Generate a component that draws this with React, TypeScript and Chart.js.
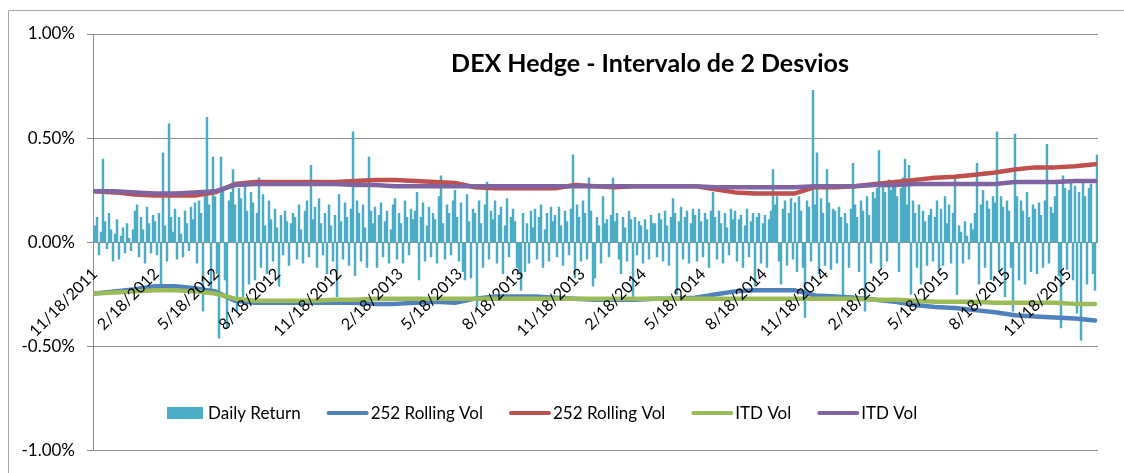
import React, { useEffect, useRef } from "react";
import { Chart, registerables } from "chart.js";

Chart.register(...registerables);

const TITLE = "DEX Hedge - Intervalo de 2 Desvios";
const START_DATE = "11/18/2011";
const TICK_LABELS = [
  "11/18/2011", "2/18/2012", "5/18/2012", "8/18/2012", "11/18/2012",
  "2/18/2013", "5/18/2013", "8/18/2013", "11/18/2013", "2/18/2014",
  "5/18/2014", "8/18/2014", "11/18/2014", "2/18/2015", "5/18/2015",
  "8/18/2015", "11/18/2015",
];
const SERIES_NAMES = ["Daily Return", "252 Rolling Vol", "252 Rolling Vol", "ITD Vol", "ITD Vol"];

// daily return, in basis points (0.01%), one bar every 3 calendar days from 11/18/2011
const BAR_STEP_DAYS = 3;
const DAILY_RETURN_BP = [
  8, 12, -6, 5, 40, 10, -3, 14, 6, -9,
  4, 11, -8, 3, 7, -5, 9, 2, -4, 6,
  15, 18, -7, 12, 6, -10, 17, 9, -5, 13,
  10, -6, 14, -20, 43, 8, -9, 57, 12, 5,
  16, -8, 12, 4, -7, 15, 9, -4, 17, 11,
  19, -10, 20, 14, -33, 22, 60, 18, -24, 41,
  22, -15, -46, 41, 25, -18, -41, 20, 24, 35,
  18, -33, 26, 21, -26, 28, 15, -20, 24, 19,
  -18, 14, 31, -12, 23, 8, -15, 20, 11, -9,
  16, 7, -21, 13, -6, 15, 10, -11, 9, 14,
  12, -8, 18, 6, -10, 15, 20, -7, 37, 11,
  17, -12, 21, 9, -6, 14, -15, 18, 8, -9,
  13, -26, 23, 10, -8, 19, 12, -11, 16, 53,
  -16, 20, 14, -9, 18, 7, -12, 41, 15, 9,
  17, -12, 13, 19, -7, 10, 15, -10, 6, 18,
  21, -8, 14, 9, -10, 20, 12, -6, 16, 11,
  15, 24, -18, 12, 19, -9, 8, 17, -7, 14,
  11, -10, 22, 32, 9, -8, 18, 14, -6, 20,
  25, 12, -9, 19, -14, -18, 23, 10, -17, 16,
  14, -31, 20, 9, -12, 18, 29, -8, 15, 11,
  20, -10, 13, 17, -15, 8, 21, -7, 12, 16,
  10, -12, -15, -23, 14, -14, 9, -10, 15, 7,
  16, -8, 12, 18, -12, 6, 14, -9, 17, 10,
  13, -7, 17, 8, -11, 15, 10, -6, 16, 42,
  -17, 18, 12, -9, 20, 14, -8, 31, 15, -21,
  -17, 12, 8, -10, 22, 9, 11, -7, 13, 31,
  10, 14, -8, -15, 12, 7, -9, 15, 11, -27,
  12, -6, 10, 8, -10, 11, 6, -8, 13, 9,
  9, -7, 14, 11, -9, 15, 8, -11, 12, 21,
  14, -25, 10, 17, -8, 12, 15, -10, 9, 16,
  13, -9, 16, 10, -7, 14, 11, -12, 15, 24,
  12, -8, 15, 9, -10, 14, 7, -6, 16, 11,
  15, -9, 11, 13, -12, 8, 16, -7, 10, 14,
  -21, 12, 14, -10, 9, 13, -12, 11, 15, 35,
  18, 22, -9, -20, 16, 20, -11, 14, 21, -8,
  19, -14, 22, 15, -12, -36, 20, 17, -9, 73,
  18, 43, -15, 21, 14, -11, 35, 19, -13, 16,
  15, -10, 17, 12, -26, 14, 9, -12, 16, 38,
  18, 12, -14, 20, 15, -33, 22, 13, -10, 24,
  21, 26, 44, -12, 28, 24, -9, 30, 25, 27,
  29, 22, -14, 26, 31, 40, 18, 37, -25, 20,
  14, -12, 18, -20, 15, 10, -11, 13, 16, -9,
  12, 20, -13, 16, -11, 22, 9, 18, -10, 14,
  31, -25, 8, 5, -10, 10, 3, -8, 9, 6,
  14, 38, -20, 18, 25, -12, 20, 16, -18, 22,
  19, 53, -14, 22, 17, -26, 20, 15, -12, -33,
  52, 22, -18, 20, 15, -20, 24, 12, -14, 18,
  16, -15, 19, 13, -12, 20, 47, -10, 17, 14,
  22, 28, -16, -41, 32, 26, -13, 25, 30, -18,
  27, -34, 24, -47, 29, 22, -20, 26, 28, -15,
  -23, 42,
];

// volatility bands, in basis points, one point every 30 calendar days
const LINE_STEP_DAYS = 30;
const ROLLING_252_LOW = [
  -24.5, -23.5, -22.5, -21, -21, -22, -23.5, -28, -29, -29,
  -29, -29, -29, -29, -29.5, -29.5, -29, -28.5, -29, -27,
  -26, -26, -26, -26.5, -27, -27.5, -27.5, -27.5, -27, -27,
  -26.5, -25, -23.5, -23, -23, -23, -25.5, -26, -26.5, -27.5,
  -28.5, -30, -31, -31.5, -32.5, -33.5, -35, -35.5, -36, -36.5,
  -37.5,
];
const ROLLING_252_HIGH = [
  24.5, 24, 23, 22.5, 22.5, 22.5, 24, 28, 29, 29,
  29, 29, 29, 29.5, 30, 30, 29.5, 29, 28.5, 26.5,
  26, 26, 26, 26, 27.5, 27, 26.5, 27, 27, 27,
  27, 25.5, 24, 23.5, 23.5, 23.5, 26.5, 26.5, 27, 28,
  29, 30, 31, 31.5, 32.5, 33.5, 35, 36, 36, 36.5,
  37.5,
];
const ITD_LOW = [
  -24.5, -24, -23.5, -23, -23, -23.5, -24.5, -27, -28, -28,
  -28, -28, -27.5, -27.5, -27, -27, -27, -27, -27, -27,
  -27, -27, -27, -27, -27, -27, -27, -27, -27, -27,
  -27, -27, -27, -27, -27, -27, -27, -27, -27, -27.5,
  -27.5, -28, -28.5, -28.5, -28.5, -29, -29, -29, -29, -29.5,
  -29.5,
];
const ITD_HIGH = [
  24.5, 24.5, 24, 23.5, 23.5, 24, 24.5, 27.5, 28, 28,
  28, 28, 28, 27.5, 27.5, 27, 27, 27, 27, 27,
  27, 27, 27, 27, 27, 27, 27, 27, 27, 27,
  27, 26.5, 26.5, 26.5, 26.5, 26.5, 27, 27, 27, 27.5,
  27.5, 28, 28, 28, 28, 28, 29, 29, 29, 29.5,
  29.5,
];

const FONT = "Lato";
const GRID = "#8E8E8E";

function toDay(s: string): number {
  const [m, d, y] = s.split("/").map(Number);
  const [m0, d0, y0] = START_DATE.split("/").map(Number);
  return Math.round((Date.UTC(y, m - 1, d) - Date.UTC(y0, m0 - 1, d0)) / 86400000);
}
const TICK_DAYS = TICK_LABELS.map(toDay);

const toPoints = (arr: number[], step: number) => arr.map((v, i) => ({ x: i * step, y: v }));

const frame = {
  id: "frame",
  beforeDraw(chart: any) {
    const ctx = chart.ctx;
    ctx.save();
    ctx.fillStyle = "#fff";
    ctx.fillRect(0, 0, chart.width, chart.height);
    ctx.strokeStyle = "#A6A6A6";
    ctx.lineWidth = 1;
    ctx.beginPath();
    ctx.moveTo(8.5, chart.height);
    ctx.lineTo(8.5, 10.5);
    ctx.lineTo(chart.width, 10.5);
    ctx.stroke();
    ctx.restore();
  },
};

const titleText = {
  id: "titleText",
  afterDraw(chart: any) {
    const ctx = chart.ctx;
    ctx.save();
    ctx.font = `bold 25px ${FONT}`;
    ctx.fillStyle = "#000";
    ctx.textAlign = "center";
    ctx.textBaseline = "middle";
    ctx.fillText(TITLE, 650, 64);
    ctx.restore();
  },
};

const excelLegend = {
  id: "excelLegend",
  afterDraw(chart: any) {
    const ctx = chart.ctx;
    ctx.save();
    ctx.font = `17px ${FONT}`;
    ctx.textBaseline = "middle";
    ctx.textAlign = "left";
    let x = 167;
    const y = 413;
    chart.data.datasets.forEach((ds: any, i: number) => {
      if (i === 0) {
        ctx.fillStyle = ds.backgroundColor;
        ctx.fillRect(x, y - 6, 36, 12);
        x += 41;
      } else {
        ctx.strokeStyle = ds.borderColor;
        ctx.lineWidth = 4;
        ctx.lineCap = "round";
        ctx.beginPath();
        ctx.moveTo(x + 2, y);
        ctx.lineTo(x + 40, y);
        ctx.stroke();
        x += 44;
      }
      ctx.fillStyle = "#000";
      ctx.fillText(ds.label, x, y + 1);
      x += ctx.measureText(ds.label).width + 26;
    });
    ctx.restore();
  },
};

function lineSet(label: string, data: number[], color: string, order: number) {
  return {
    type: "line" as const,
    label,
    data: toPoints(data, LINE_STEP_DAYS),
    borderColor: color,
    backgroundColor: color,
    borderWidth: 4.5,
    pointRadius: 0,
    borderCapStyle: "round" as const,
    borderJoinStyle: "round" as const,
    tension: 0,
    order,
  };
}

export default function App() {
  const ref = useRef<HTMLCanvasElement>(null);
  useEffect(() => {
    const chart = new Chart(ref.current as HTMLCanvasElement, {
      type: "bar",
      data: {
        datasets: [
          {
            type: "bar",
            label: SERIES_NAMES[0],
            data: toPoints(DAILY_RETURN_BP, BAR_STEP_DAYS),
            backgroundColor: "#4BACC6",
            barThickness: 1.8,
            order: 10,
          } as any,
          lineSet(SERIES_NAMES[1], ROLLING_252_LOW, "#4F81BD", 4),
          lineSet(SERIES_NAMES[2], ROLLING_252_HIGH, "#C0504D", 3),
          lineSet(SERIES_NAMES[3], ITD_LOW, "#9BBB59", 2),
          lineSet(SERIES_NAMES[4], ITD_HIGH, "#8064A2", 1),
        ],
      },
      options: {
        responsive: false,
        animation: false,
        events: [],
        layout: { padding: { left: 0, top: 34, right: 26, bottom: 22 } },
        plugins: {
          legend: { display: false },
          tooltip: { enabled: false },
          title: { display: false },
        },
        scales: {
          x: {
            type: "linear",
            position: { y: 0 } as any,
            min: -3,
            max: 1504.5,
            offset: false,
            z: 1,
            grid: { display: false },
            border: { display: false },
            afterBuildTicks: (s: any) => {
              s.ticks = TICK_DAYS.map((v) => ({ value: v }));
            },
            ticks: {
              z: 1,
              autoSkip: false,
              maxRotation: 45,
              minRotation: 45,
              padding: 14,
              color: "#000",
              font: { family: FONT, size: 16 },
              callback: (_v: any, i: number) => TICK_LABELS[i],
            } as any,
          },
          y: {
            type: "linear",
            min: -100,
            max: 100,
            afterFit: (s: any) => {
              s.width = 93;
            },
            grid: { color: GRID, tickLength: 6, drawTicks: true },
            border: { display: true, color: GRID },
            ticks: {
              stepSize: 50,
              padding: 12,
              color: "#000",
              font: { family: FONT, size: 17 },
              callback: (v: any) => (Number(v) / 100).toFixed(2) + "%",
            },
          },
        },
      },
      plugins: [frame, titleText, excelLegend],
    });
    return () => chart.destroy();
  }, []);
  return (
    <div style={{ position: "fixed", left: 0, top: 0, width: 1124, height: 473, background: "#fff" }}>
      <canvas ref={ref} width={1124} height={473} style={{ display: "block" }} />
    </div>
  );
}
